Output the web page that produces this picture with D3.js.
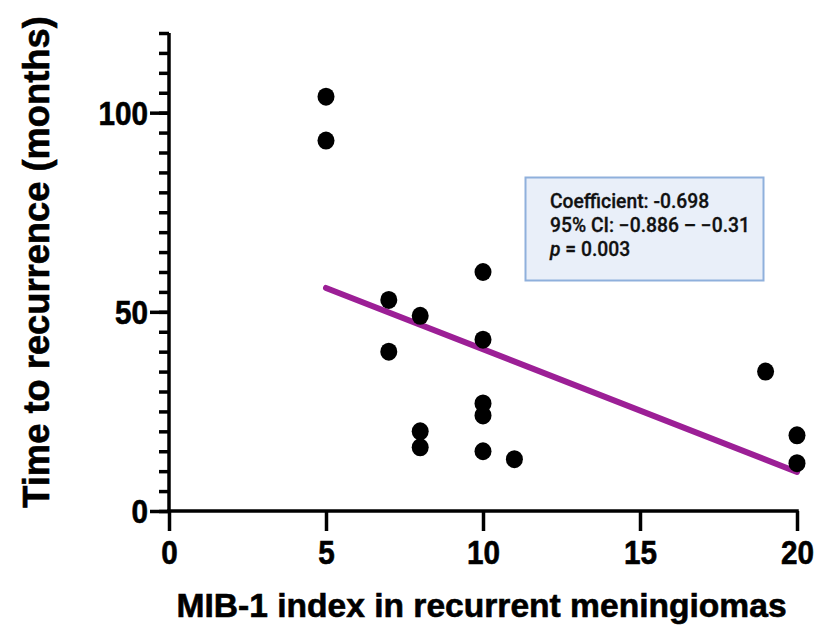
<!DOCTYPE html>
<html><head><meta charset="utf-8">
<script src="https://cdn.jsdelivr.net/npm/d3@7"></script>
<style>
html,body{margin:0;padding:0;background:#fff;}
svg{display:block;}
</style></head>
<body>
<svg id="chart" width="814" height="630"></svg>
<script>
const mibIndex = [5, 5, 7, 7, 8, 8, 8, 10, 10, 10, 10, 10, 11, 19, 20, 20];
const monthsToRecurrence = [104, 93, 53, 40, 49, 20, 16, 60, 43, 27, 24, 15, 13, 35, 19, 12];
const fitX = [5, 20];
const fitY = [56, 9.8];
const xTicks = [0, 5, 10, 15, 20];
const yTicks = [0, 50, 100];
const yMinorTicks = d3.range(0, 121, 5);
const statLines = ["Coefficient: -0.698", "95% CI: \u22120.886 \u2013 \u22120.31", "p = 0.003"];
const xTitle = "MIB-1 index in recurrent meningiomas";
const yTitle = "Time to recurrence (months)";

const svg = d3.select("#chart");
const x = d3.scaleLinear().domain([0, 20]).range([169, 797]);
const y = d3.scaleLinear().domain([0, 120]).range([511, 33]);
const axisFont = "'Liberation Sans',Arial,sans-serif";
const sx = 0.9;

// Y minor ticks
const yMinor = svg.append("g").attr("transform", `translate(${x(0)},0)`)
  .call(d3.axisLeft(y).tickValues(yMinorTicks).tickSize(10).tickFormat(""));
yMinor.select(".domain").remove();
yMinor.selectAll("line").attr("stroke", "#000").attr("stroke-width", 3.5);

// Y major
const yAx = svg.append("g").attr("transform", `translate(${x(0)},0)`)
  .call(d3.axisLeft(y).tickValues(yTicks).tickSize(19).tickPadding(2).tickSizeOuter(0));
yAx.select(".domain").remove();
yAx.selectAll("line").attr("stroke", "#000").attr("stroke-width", 3.5);
yAx.selectAll("text").attr("font-family", axisFont).attr("font-weight", "bold")
  .attr("font-size", 33).attr("fill", "#000").attr("dy", "0.36em")
  .attr("x", -21 / sx).attr("transform", `scale(${sx},1)`)
  .attr("stroke", "#000").attr("stroke-width", 0.6);

// X axis
const xAx = svg.append("g").attr("transform", `translate(0,${y(0)})`)
  .call(d3.axisBottom(x).tickValues(xTicks).tickSize(20).tickPadding(10).tickSizeOuter(0));
xAx.select(".domain").remove();
xAx.selectAll("line").attr("stroke", "#000").attr("stroke-width", 3.5);
xAx.selectAll("text").attr("font-family", axisFont).attr("font-weight", "bold")
  .attr("font-size", 33).attr("fill", "#000").attr("transform", `scale(${sx},1)`)
  .attr("stroke", "#000").attr("stroke-width", 0.6);

// axis lines
svg.append("line").attr("x1", x(0)).attr("x2", x(0)).attr("y1", y(120)).attr("y2", y(0))
  .attr("stroke", "#000").attr("stroke-width", 3.5);
svg.append("line").attr("x1", x(0) - 1.75).attr("x2", x(20) + 1.75).attr("y1", y(0)).attr("y2", y(0))
  .attr("stroke", "#000").attr("stroke-width", 3.5);

// regression line
svg.append("line")
  .attr("x1", x(fitX[0])).attr("y1", y(fitY[0]))
  .attr("x2", x(fitX[1])).attr("y2", y(fitY[1]))
  .attr("stroke", "#9c1f96").attr("stroke-width", 6).attr("stroke-linecap", "round");

// points
svg.append("g").selectAll("ellipse").data(mibIndex).join("ellipse")
  .attr("cx", (d) => x(d))
  .attr("cy", (d, i) => y(monthsToRecurrence[i]))
  .attr("rx", 8.5).attr("ry", 9).attr("fill", "#000");

// stats box
svg.append("rect").attr("x", 525.5).attr("y", 177.5).attr("width", 238).attr("height", 103)
  .attr("fill", "#e9eff9").attr("stroke", "#8fb0dc").attr("stroke-width", 2);
const st = svg.append("g").attr("font-family", "Roboto, sans-serif")
  .attr("font-weight", 500).attr("font-size", 19.3).attr("fill", "#111")
  .attr("stroke", "#111").attr("stroke-width", 0.3);
st.append("text").attr("x", 550).attr("y", 208).text(statLines[0]);
st.append("text").attr("x", 550).attr("y", 232).text(statLines[1]);
const t3 = st.append("text").attr("x", 550).attr("y", 256);
t3.append("tspan").attr("font-style", "italic").text(statLines[2].slice(0, 1));
t3.append("tspan").text(statLines[2].slice(1));

// titles
svg.append("text").attr("x", (178 + 785) / 2).attr("y", 617).attr("text-anchor", "middle")
  .attr("font-family", axisFont).attr("font-weight", "bold")
  .attr("font-size", 33.6).attr("fill", "#000").attr("stroke", "#000").attr("stroke-width", 0.6)
  .text(xTitle);
svg.append("text").attr("transform", "translate(49,262) rotate(-90)").attr("text-anchor", "middle")
  .attr("font-family", axisFont).attr("font-weight", "bold")
  .attr("font-size", 36.3).attr("fill", "#000").attr("stroke", "#000").attr("stroke-width", 0.6)
  .text(yTitle);
</script>
</body></html>
